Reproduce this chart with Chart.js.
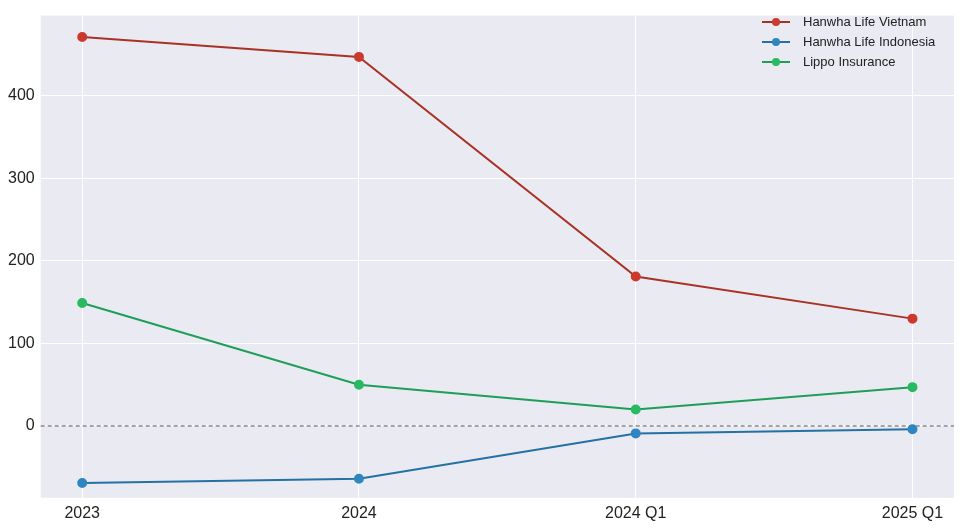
<!DOCTYPE html>
<html>
<head>
<meta charset="utf-8">
<script src="https://cdn.jsdelivr.net/npm/chart.js@4"></script>
<style>
  html, body { margin: 0; padding: 0; background: #fff; }
  #wrap { width: 960px; height: 529px; }
</style>
</head>
<body>
<div id="wrap"><canvas id="c"></canvas></div>
<script>
const categories = ['2023', '2024', '2024 Q1', '2025 Q1'];
const seriesNames = ['Hanwha Life Vietnam', 'Hanwha Life Indonesia', 'Lippo Insurance'];
const vietnam = [471, 447, 181, 130];
const indonesia = [-69, -64, -9, -4];
const lippo = [149, 50, 20, 47];
const lineColors = ['#a93226', '#2471a3', '#1e9e58'];
const dotColors = ['#cb3a2c', '#2e86c1', '#27ba62'];

const toPoints = arr => arr.map((v, i) => ({ x: i, y: v }));

// background, zero line and legend drawn by hand
const decor = {
  id: 'decor',
  beforeDraw(chart) {
    const { ctx, chartArea: a } = chart;
    ctx.save();
    ctx.fillStyle = '#eaeaf2';
    ctx.fillRect(a.left, a.top, a.right - a.left, a.bottom - a.top);
    ctx.restore();
  },
  beforeDatasetsDraw(chart) {
    const { ctx, chartArea: a, scales } = chart;
    const y0 = scales.y.getPixelForValue(0);
    ctx.save();
    ctx.strokeStyle = '#555';
    ctx.lineWidth = 1;
    ctx.setLineDash([4, 3]);
    ctx.beginPath();
    ctx.moveTo(a.left, y0);
    ctx.lineTo(a.right, y0);
    ctx.stroke();
    ctx.restore();
  },
  afterDraw(chart) {
    const { ctx } = chart;
    ctx.save();
    ctx.font = '13px "Liberation Sans", Arial, sans-serif';
    ctx.textBaseline = 'middle';
    seriesNames.forEach((name, i) => {
      const y = 22 + i * 20;
      ctx.strokeStyle = lineColors[i];
      ctx.lineWidth = 2;
      ctx.beginPath();
      ctx.moveTo(762, y);
      ctx.lineTo(790, y);
      ctx.stroke();
      ctx.fillStyle = dotColors[i];
      ctx.beginPath();
      ctx.arc(776, y, 4, 0, Math.PI * 2);
      ctx.fill();
      ctx.fillStyle = '#222';
      ctx.fillText(name, 803, y);
    });
    ctx.restore();
  }
};

const seriesData = [vietnam, indonesia, lippo];

new Chart(document.getElementById('c'), {
  type: 'line',
  data: {
    datasets: seriesData.map((arr, i) => ({
      label: seriesNames[i],
      data: toPoints(arr),
      borderColor: lineColors[i],
      backgroundColor: dotColors[i],
      pointBackgroundColor: dotColors[i],
      pointBorderColor: dotColors[i],
      borderWidth: 2,
      pointRadius: 4,
      tension: 0
    }))
  },
  options: {
    responsive: true,
    maintainAspectRatio: false,
    animation: false,
    layout: { padding: { top: -5, right: 5, left: 2, bottom: 0 } },
    plugins: { legend: { display: false }, tooltip: { enabled: false } },
    scales: {
      x: {
        type: 'linear',
        min: -0.15,
        max: 3.15,
        afterBuildTicks: axis => { axis.ticks = categories.map((_, i) => ({ value: i })); },
        ticks: {
          callback: v => categories[v] ?? '',
          color: '#222',
          font: { family: '"Liberation Sans", Arial, sans-serif', size: 16 },
          padding: 6
        },
        grid: { color: '#ffffff', lineWidth: 1, drawTicks: false },
        border: { display: false }
      },
      y: {
        min: -87,
        max: 497,
        afterBuildTicks: axis => { axis.ticks = [0, 100, 200, 300, 400].map(v => ({ value: v })); },
        ticks: {
          color: '#222',
          font: { family: '"Liberation Sans", Arial, sans-serif', size: 16 },
          padding: 6
        },
        grid: { color: '#ffffff', lineWidth: 1, drawTicks: false },
        border: { display: false }
      }
    }
  },
  plugins: [decor]
});
</script>
</body>
</html>
